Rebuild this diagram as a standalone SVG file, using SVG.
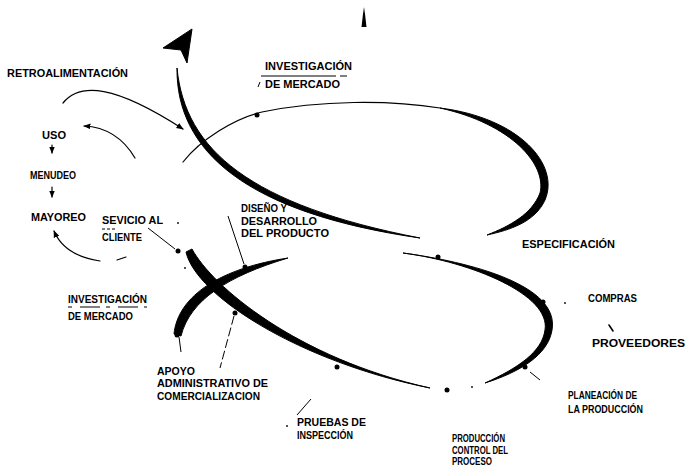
<svg xmlns="http://www.w3.org/2000/svg" width="686" height="471" viewBox="0 0 686 471">
<style>
.t{font-family:"Liberation Sans",Arial,sans-serif;font-weight:bold;font-size:10.5px;fill:#000}
.s11{font-size:11px}
.ln{fill:none;stroke:#000;stroke-width:1.2;stroke-linecap:round}
.ld{fill:none;stroke:#000;stroke-width:1}
.ink{fill:#000;stroke:#000;stroke-width:1;stroke-linejoin:round}
.dot{fill:#000}
</style>
<defs>
<marker id="ah" viewBox="0 0 10 10" refX="9" refY="5" markerWidth="6" markerHeight="6" orient="auto-start-reverse"><path d="M0,1 L10,5 L0,9 z" fill="#000"/></marker>
</defs>
<rect width="686" height="471" fill="#fff"/>

<g id="connectors">
  <!-- main spiral backbone with arrowhead -->
  <path class="ink" d="M177,68 C185,150 250,205 420,238 C246,213 176,151 177,68 Z"/>
  <polygon class="ink" points="192,29 163,48 181,50 187,63"/>
  <polygon class="dot" points="361.5,27 366.5,27 365,14 364,7 363,14"/>
  <!-- upper loop -->
  <path class="ln" d="M183,162 C200,140 235,118 262,112 C320,100 390,100 440,108"/>
  <path class="ink" d="M440,108 C520,118 560,165 545,200 C535,222 510,230 487,235 C510,226 532,214 540,193 C547,165 512,124 440,108 Z"/>
  <!-- lower loop -->
  <path class="ink" d="M403,253 C470,262 560,285 552,330 C548,355 520,372 485,383 C518,368 542,352 545,330 C551,295 472,262 403,253 Z"/>
  <path class="ink" d="M192,249 C212,286 296,358 430,388 C300,362 196,296 186,252 Z"/>
  <path class="ink" d="M174,334 C178,295 222,268 288,258 C228,276 190,300 181,336 Z"/>
  <!-- left feedback arrows -->
  <path class="ln" d="M63,103 C80,82 115,85 183,129" marker-end="url(#ah)"/>
  <path class="ln" d="M135,158 C122,136 105,127 84,126" marker-end="url(#ah)"/>
  <path class="ln" d="M100,261 C80,258 62,250 54,231" marker-end="url(#ah)"/>
  <path class="ln" d="M117,260 L126,257"/>
  <line class="ln" x1="52" y1="145" x2="52" y2="153" marker-end="url(#ah)"/>
  <line class="ln" x1="52" y1="187" x2="52" y2="197" marker-end="url(#ah)"/>
  <!-- leaders -->
  <line class="ld" x1="148" y1="228" x2="175" y2="249"/>
  <line class="ld" x1="228" y1="216" x2="244" y2="264"/>
  <line class="ld" x1="234" y1="316" x2="220" y2="368" stroke-dasharray="9 3"/>
  <line class="ld" x1="179" y1="337" x2="181" y2="352"/>
  <line class="ld" x1="311" y1="399" x2="297" y2="415"/>
  <line class="ld" x1="530" y1="372" x2="540" y2="380"/>
  <line class="ln" x1="609" y1="325" x2="613" y2="331" style="stroke-width:1.6"/>
  <!-- text rules -->
  <line class="ld" x1="261" y1="76" x2="336" y2="76"/>
  <line class="ld" x1="340" y1="76" x2="347" y2="76"/>
  <line class="ld" x1="258" y1="87" x2="260" y2="82"/>
  <line class="ld" x1="68" y1="307" x2="147" y2="307" stroke-dasharray="4 8 20 6"/>
  <line class="ld" x1="102" y1="229" x2="115" y2="229" stroke-dasharray="3 2"/>
  <!-- dots -->
  <circle class="dot" cx="257" cy="115" r="2.5"/>
  <circle class="dot" cx="438" cy="257" r="2.5"/>
  <circle class="dot" cx="543" cy="302" r="2.5"/>
  <circle class="dot" cx="525" cy="367" r="2.5"/>
  <circle class="dot" cx="447" cy="390" r="2.5"/>
  <circle class="dot" cx="337" cy="367" r="2.5"/>
  <circle class="dot" cx="245" cy="267" r="2.5"/>
  <circle class="dot" cx="235" cy="313" r="2.5"/>
  <circle class="dot" cx="178" cy="251" r="2.5"/>
  <circle class="dot" cx="177" cy="335" r="2.5"/>
  <circle class="dot" cx="287" cy="426" r="0.9"/>
  <circle class="dot" cx="565" cy="303" r="0.9"/>
  <circle class="dot" cx="472" cy="387" r="0.9"/>
  <circle class="dot" cx="178" cy="223" r="0.9"/>
  <circle class="dot" cx="185" cy="268" r="0.9"/>
</g>

<g id="n-retro"><text class="t" x="7" y="77" textLength="121" lengthAdjust="spacingAndGlyphs">RETROALIMENTACIÓN</text></g>
<g id="n-uso"><text class="t" x="42" y="139" textLength="24" lengthAdjust="spacingAndGlyphs">USO</text></g>
<g id="n-menudeo"><text class="t" x="30" y="179" textLength="46" lengthAdjust="spacingAndGlyphs">MENUDEO</text></g>
<g id="n-mayoreo"><text class="t" x="31" y="221" textLength="55" lengthAdjust="spacingAndGlyphs">MAYOREO</text></g>
<g id="n-servicio"><text class="t" x="102" y="224" textLength="61" lengthAdjust="spacingAndGlyphs">SEVICIO AL</text><text class="t" x="102" y="240.5" textLength="40" lengthAdjust="spacingAndGlyphs">CLIENTE</text></g>
<g id="n-diseno"><text class="t" x="241" y="212" textLength="46" lengthAdjust="spacingAndGlyphs">DISEÑO Y</text><text class="t" x="241" y="224.5" textLength="76" lengthAdjust="spacingAndGlyphs">DESARROLLO</text><text class="t" x="241" y="237" textLength="88" lengthAdjust="spacingAndGlyphs">DEL PRODUCTO</text></g>
<g id="n-invest-top"><text class="t" x="265" y="70" textLength="87" lengthAdjust="spacingAndGlyphs">INVESTIGACIÓN</text><text class="t" x="265" y="88" textLength="75" lengthAdjust="spacingAndGlyphs">DE MERCADO</text></g>
<g id="n-invest-low"><text class="t" x="68" y="303" textLength="79" lengthAdjust="spacingAndGlyphs">INVESTIGACIÓN</text><text class="t" x="68" y="320" textLength="65" lengthAdjust="spacingAndGlyphs">DE MERCADO</text></g>
<g id="n-apoyo"><text class="t" x="157" y="375" textLength="38" lengthAdjust="spacingAndGlyphs">APOYO</text><text class="t" x="157" y="387" textLength="111" lengthAdjust="spacingAndGlyphs">ADMINISTRATIVO DE</text><text class="t" x="157" y="400" textLength="103" lengthAdjust="spacingAndGlyphs">COMERCIALIZACION</text></g>
<g id="n-pruebas"><text class="t" x="297" y="426" textLength="69" lengthAdjust="spacingAndGlyphs">PRUEBAS DE</text><text class="t" x="297" y="439" textLength="56" lengthAdjust="spacingAndGlyphs">INSPECCIÓN</text></g>
<g id="n-especificacion"><text class="t" x="522" y="248" textLength="93" lengthAdjust="spacingAndGlyphs">ESPECIFICACIÓN</text></g>
<g id="n-compras"><text class="t" x="588" y="301.5" textLength="49" lengthAdjust="spacingAndGlyphs">COMPRAS</text></g>
<g id="n-proveedores"><text class="t s11" x="592" y="347" textLength="93" lengthAdjust="spacingAndGlyphs">PROVEEDORES</text></g>
<g id="n-planeacion"><text class="t" x="568" y="399" textLength="69" lengthAdjust="spacingAndGlyphs">PLANEACIÓN DE</text><text class="t" x="568" y="413" textLength="75" lengthAdjust="spacingAndGlyphs">LA PRODUCCIÓN</text></g>
<g id="n-produccion"><text class="t" x="452" y="441.5" textLength="53" lengthAdjust="spacingAndGlyphs">PRODUCCIÓN</text><text class="t" x="452" y="453.5" textLength="56" lengthAdjust="spacingAndGlyphs">CONTROL DEL</text><text class="t" x="452" y="465" textLength="40" lengthAdjust="spacingAndGlyphs">PROCESO</text></g>
</svg>
